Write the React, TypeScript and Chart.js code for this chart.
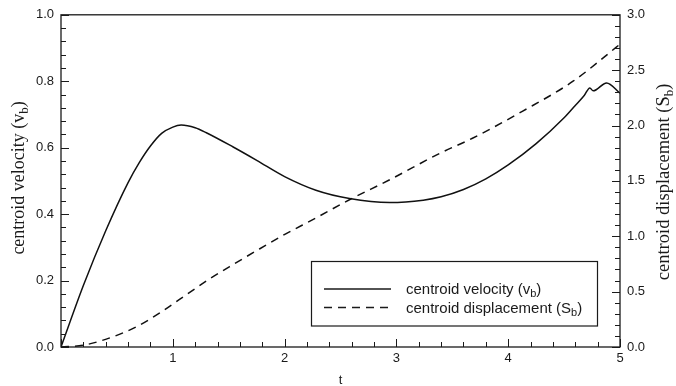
import React, { useEffect, useRef } from 'react';
import { Chart, registerables } from 'chart.js';
Chart.register(...registerables);

// centroid velocity v_b (left axis)
const velT = [0, 0.2, 0.4, 0.6, 0.7, 0.8, 0.9, 1.0, 1.075, 1.2, 1.3, 1.54, 1.75, 2.0, 2.28, 2.58, 2.94, 3.24, 3.4, 3.6, 3.8, 4.0, 4.25, 4.5, 4.6, 4.68, 4.73, 4.76, 4.88, 5.0];
const velV = [0, 0.185, 0.35, 0.495, 0.555, 0.605, 0.643, 0.662, 0.668, 0.66, 0.645, 0.602, 0.562, 0.513, 0.472, 0.447, 0.435, 0.442, 0.452, 0.474, 0.506, 0.548, 0.612, 0.69, 0.727, 0.757, 0.78, 0.771, 0.795, 0.764];

// centroid displacement S_b (right axis)
const dispT = [0, 0.195, 0.43, 0.67, 0.88, 1.06, 1.33, 1.54, 1.775, 1.98, 2.28, 2.58, 2.94, 3.39, 3.68, 4.13, 4.58, 4.97, 5.0];
const dispS = [0, 0.015, 0.08, 0.18, 0.305, 0.43, 0.615, 0.745, 0.885, 1.005, 1.165, 1.33, 1.51, 1.75, 1.885, 2.13, 2.4, 2.71, 2.735];

const xMin = 0, xMax = 5, xStep = 1, xMinorStep = 0.2;
const yMin = 0, yMax = 1, yStep = 0.2, yMinorStep = 0.04;
const y1Min = 0, y1Max = 3, y1Step = 0.5, y1MinorStep = 0.1;

const xTitle = 't';
const leftTitle: [string, boolean][] = [['centroid velocity (v', false], ['b', true], [')', false]];
const rightTitle: [string, boolean][] = [['centroid displacement (S', false], ['b', true], [')', false]];
const legendVel: [string, boolean][] = [['centroid velocity (v', false], ['b', true], [')', false]];
const legendDisp: [string, boolean][] = [['centroid displacement (S', false], ['b', true], [')', false]];

const SANS = '"Liberation Sans", Arial, sans-serif';
const SERIF = '"Liberation Serif", "Times New Roman", serif';
const INK = '#1a1a1a';
const DASH = [8, 6];

function drawRich(ctx: CanvasRenderingContext2D, parts: [string, boolean][], x: number, y: number, size: number, family: string, align: 'left' | 'center') {
  const subSize = Math.round(size * 0.7);
  let total = 0;
  const widths = parts.map(([t, sub]) => {
    ctx.font = `${sub ? subSize : size}px ${family}`;
    const w = ctx.measureText(t).width;
    total += w;
    return w;
  });
  let cx = align === 'center' ? x - total / 2 : x;
  ctx.textAlign = 'left';
  ctx.textBaseline = 'alphabetic';
  parts.forEach(([t, sub], i) => {
    ctx.font = `${sub ? subSize : size}px ${family}`;
    ctx.fillText(t, cx, y + (sub ? size * 0.22 : 0));
    cx += widths[i];
  });
}

const decorPlugin = {
  id: 'decor',
  afterDraw(chart: any) {
    const { ctx, chartArea: a, scales } = chart;
    const xs = scales.x, ys = scales.y, y1s = scales.y1;
    ctx.save();
    ctx.strokeStyle = INK;
    ctx.fillStyle = INK;
    ctx.lineWidth = 1;
    // inward ticks
    ctx.beginPath();
    for (let i = 0; i <= Math.round((xMax - xMin) / xMinorStep); i++) {
      const v = xMin + i * xMinorStep;
      const px = Math.round(xs.getPixelForValue(v)) + 0.5;
      const major = Math.abs(v / xStep - Math.round(v / xStep)) < 1e-6;
      ctx.moveTo(px, a.bottom);
      ctx.lineTo(px, a.bottom - (major ? 8 : 5));
    }
    for (let i = 0; i <= Math.round((yMax - yMin) / yMinorStep); i++) {
      const v = yMin + i * yMinorStep;
      const py = Math.round(ys.getPixelForValue(v)) + 0.5;
      const major = Math.abs(v / yStep - Math.round(v / yStep)) < 1e-6;
      ctx.moveTo(a.left, py);
      ctx.lineTo(a.left + (major ? 8 : 5), py);
    }
    for (let i = 0; i <= Math.round((y1Max - y1Min) / y1MinorStep); i++) {
      const v = y1Min + i * y1MinorStep;
      const py = Math.round(y1s.getPixelForValue(v)) + 0.5;
      const major = Math.abs(v / y1Step - Math.round(v / y1Step)) < 1e-6;
      ctx.moveTo(a.right, py);
      ctx.lineTo(a.right - (major ? 8 : 5), py);
    }
    ctx.stroke();
    // frame
    ctx.lineWidth = 1.3;
    ctx.strokeRect(a.left, a.top, a.right - a.left, a.bottom - a.top);

    // axis titles
    ctx.font = `13px ${SANS}`;
    ctx.textAlign = 'center';
    ctx.textBaseline = 'middle';
    ctx.fillText(xTitle, (a.left + a.right) / 2, 380);

    ctx.save();
    ctx.translate(24, (a.top + a.bottom) / 2 - 3);
    ctx.rotate(-Math.PI / 2);
    drawRich(ctx, leftTitle, 0, 0, 18, SERIF, 'center');
    ctx.restore();

    ctx.save();
    ctx.translate(669, (a.top + a.bottom) / 2 + 1);
    ctx.rotate(-Math.PI / 2);
    drawRich(ctx, rightTitle, 0, 0, 18.5, SERIF, 'center');
    ctx.restore();

    // legend
    ctx.lineWidth = 1.2;
    ctx.strokeRect(311.5, 261.5, 286, 64.5);
    ctx.lineWidth = 1.5;
    ctx.beginPath();
    ctx.moveTo(324, 289);
    ctx.lineTo(391, 289);
    ctx.stroke();
    ctx.setLineDash(DASH);
    ctx.beginPath();
    ctx.moveTo(324, 307.5);
    ctx.lineTo(391, 307.5);
    ctx.stroke();
    ctx.setLineDash([]);
    drawRich(ctx, legendVel, 406, 294, 15, SANS, 'left');
    drawRich(ctx, legendDisp, 406, 313, 15, SANS, 'left');
    ctx.restore();
  },
};

export default function App() {
  const ref = useRef<HTMLCanvasElement>(null);
  useEffect(() => {
    if (!ref.current) return;
    const tickFont = { family: SANS, size: 13 };
    const chart = new Chart(ref.current, {
      type: 'line',
      data: {
        datasets: [
          {
            label: 'centroid velocity (vb)',
            data: velT.map((t, i) => ({ x: t, y: velV[i] })),
            yAxisID: 'y',
            borderColor: '#111',
            borderWidth: 1.5,
            pointRadius: 0,
            cubicInterpolationMode: 'monotone',
            fill: false,
          },
          {
            label: 'centroid displacement (Sb)',
            data: dispT.map((t, i) => ({ x: t, y: dispS[i] })),
            yAxisID: 'y1',
            borderColor: '#111',
            borderWidth: 1.5,
            borderDash: DASH,
            pointRadius: 0,
            cubicInterpolationMode: 'monotone',
            fill: false,
          },
        ],
      },
      options: {
        animation: false,
        responsive: false,
        layout: { padding: { top: 13, left: 0, right: 0, bottom: 0 } },
        plugins: { legend: { display: false }, tooltip: { enabled: false } },
        scales: {
          x: {
            type: 'linear',
            min: xMin,
            max: xMax,
            grid: { display: false, drawTicks: false },
            border: { display: false },
            ticks: { stepSize: xStep, color: INK, font: tickFont, padding: 4, maxRotation: 0, callback: (v: any) => (v === 0 ? '' : String(v)) },
            afterFit: (s: any) => { s.height = 39; },
          },
          y: {
            type: 'linear',
            position: 'left',
            min: yMin,
            max: yMax,
            grid: { display: false, drawTicks: false },
            border: { display: false },
            ticks: { stepSize: yStep, color: INK, font: tickFont, padding: 7, callback: (v: any) => Number(v).toFixed(1) },
            afterFit: (s: any) => { s.width = 61; },
          },
          y1: {
            type: 'linear',
            position: 'right',
            min: y1Min,
            max: y1Max,
            grid: { display: false, drawTicks: false },
            border: { display: false },
            ticks: { stepSize: y1Step, color: INK, font: tickFont, padding: 7, callback: (v: any) => Number(v).toFixed(1) },
            afterFit: (s: any) => { s.width = 56; },
          },
        },
      },
      plugins: [decorPlugin],
    } as any);
    return () => chart.destroy();
  }, []);
  return (
    <div style={{ position: 'absolute', left: 0, top: 0, width: 676, height: 386, background: '#fff' }}>
      <canvas ref={ref} width={676} height={386} style={{ display: 'block' }} />
    </div>
  );
}
